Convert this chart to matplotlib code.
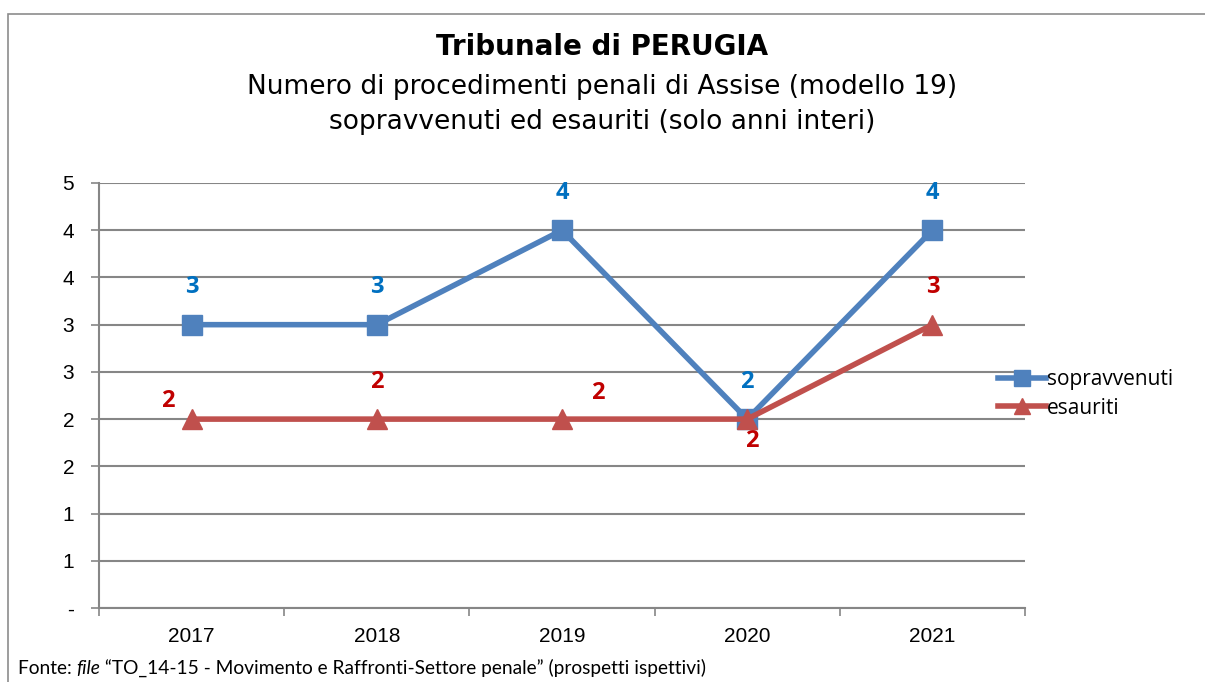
import matplotlib
matplotlib.use("Agg")
import matplotlib.pyplot as plt
from matplotlib.patches import Rectangle

# Data
years = ["2017", "2018", "2019", "2020", "2021"]
sopravvenuti = [3, 3, 4, 2, 4]
esauriti = [2, 2, 2, 2, 3]
y_ticks = [0, 0.5, 1, 1.5, 2, 2.5, 3, 3.5, 4, 4.5]
y_tick_labels = ["-", "1", "1", "2", "2", "3", "3", "4", "4", "5"]

# label offsets in points (dx, dy) for each data label
sopra_offsets = [(0, 27), (0, 27), (0, 27), (0, 27), (0, 27)]
esau_offsets = [(-17, 13), (0, 27), (26, 19), (3, -16), (0, 27)]

blue = "#4F81BD"
red = "#C0504D"
blue_lbl = "#0070C0"
red_lbl = "#C00000"
grid_col = "#868686"

fig = plt.figure(figsize=(12.05, 6.82), dpi=100)
ax = fig.add_axes([99 / 1205, 1 - 608 / 682, 926 / 1205, 425 / 682])

# outer frame of the chart area
fig.patches.append(Rectangle((8 / 1205, -0.1), 1.2, 1.1 - 14 / 682, transform=fig.transFigure,
                             fill=False, edgecolor="#8C8C8C", linewidth=1.2))

x = list(range(len(years)))
l1, = ax.plot(x, sopravvenuti, color=blue, linewidth=4, marker="s", markersize=14,
              label="sopravvenuti", zorder=3, clip_on=False)
l2, = ax.plot(x, esauriti, color=red, linewidth=4, marker="^", markersize=14,
              label="esauriti", zorder=4, clip_on=False)

for i, v in enumerate(sopravvenuti):
    ax.annotate(str(v), (i, v), xytext=sopra_offsets[i], textcoords="offset points",
                ha="center", va="center", color=blue_lbl, fontsize=17, fontweight="bold",
                family="Open Sans")
for i, v in enumerate(esauriti):
    ax.annotate(str(v), (i, v), xytext=esau_offsets[i], textcoords="offset points",
                ha="center", va="center", color=red_lbl, fontsize=17, fontweight="bold",
                family="Open Sans")

ax.set_xlim(-0.5, len(years) - 0.5)
ax.set_ylim(0, 4.5)
ax.set_yticks(y_ticks)
ax.set_yticklabels(y_tick_labels, family="Liberation Sans", fontsize=15)
ax.set_xticks(x)
ax.set_xticklabels(years, family="Liberation Sans", fontsize=15)
ax.set_xticks([i - 0.5 for i in range(len(years) + 1)], minor=True)
ax.tick_params(axis="x", which="major", length=0, pad=14)
ax.tick_params(axis="x", which="minor", length=6, width=1.2, color=grid_col)
ax.tick_params(axis="y", length=6, width=1.2, color=grid_col, pad=12)
ax.yaxis.grid(True, color=grid_col, linewidth=1.5)
ax.set_axisbelow(True)
for s in ["top", "right"]:
    ax.spines[s].set_visible(False)
for s in ["left", "bottom"]:
    ax.spines[s].set_color(grid_col)
    ax.spines[s].set_linewidth(1.5)

leg = fig.legend(handles=[l1, l2], loc="center left", bbox_to_anchor=(990 / 1205, 1 - 394 / 682),
                 frameon=False, prop={"family": "Open Sans", "size": 15},
                 handlelength=2.3, handletextpad=0.05, labelspacing=0.35, borderaxespad=0,
                 markerscale=0.85)

fig.text(0.5, 1 - 47 / 682, "Tribunale di PERUGIA", ha="center", va="center",
         fontsize=20, fontweight="bold", family="DejaVu Sans")
fig.text(0.5, 1 - 87 / 682, "Numero di procedimenti penali di Assise (modello 19)", ha="center",
         va="center", fontsize=19, family="DejaVu Sans")
fig.text(0.5, 1 - 122 / 682, "sopravvenuti ed esauriti (solo anni interi)", ha="center",
         va="center", fontsize=19, family="DejaVu Sans")

# source note, with "file" in italics
ybase = 1 - 674 / 682
t1 = fig.text(18 / 1205, ybase, "Fonte: ", fontsize=13.8, family="Lato")
t2 = fig.text(0, ybase, "file", fontsize=13.8, family="Lato", style="italic")
fig.canvas.draw()
r = fig.canvas.get_renderer()
bb = t1.get_window_extent(r)
t2.set_position((bb.x1 / fig.bbox.width, ybase))
bb2 = t2.get_window_extent(r)
fig.text(bb2.x1 / fig.bbox.width, ybase,
         " \u201cTO_14-15 - Movimento e Raffronti-Settore penale\u201d (prospetti ispettivi)",
         fontsize=13.8, family="Lato")

fig.savefig("out.png", dpi=100)
